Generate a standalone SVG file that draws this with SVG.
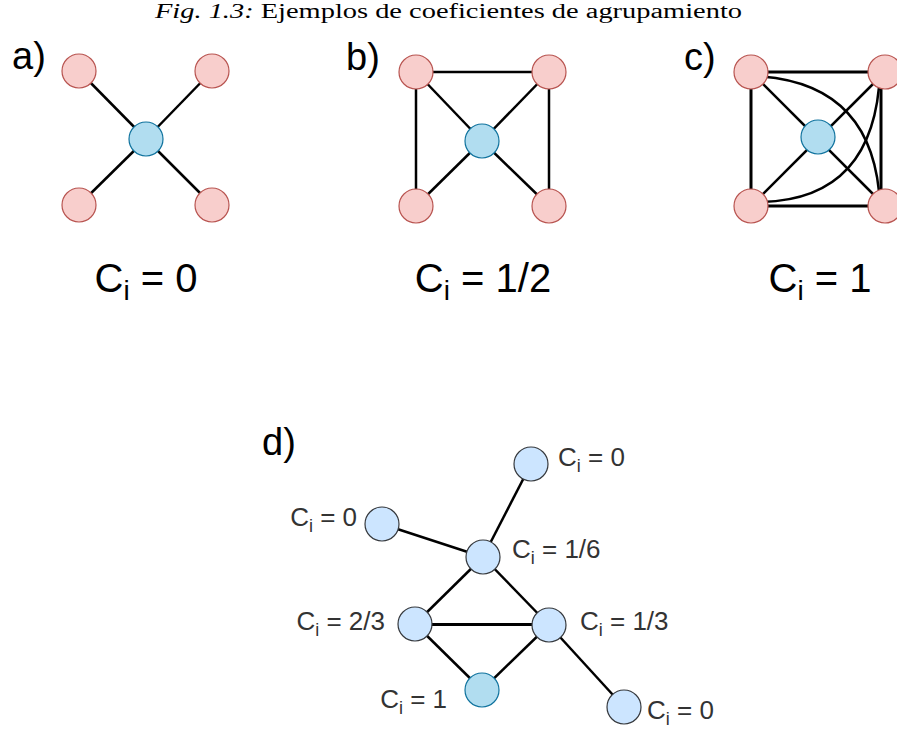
<svg xmlns="http://www.w3.org/2000/svg" width="897" height="729" viewBox="0 0 897 729">
<style>
.e{stroke:#000;stroke-width:2.5;fill:none}
.e3{stroke:#000;stroke-width:3;fill:none}
.red{fill:#f8cecc;stroke:#b85450;stroke-width:1.2}
.cen{fill:#b1ddf0;stroke:#10739e;stroke-width:1.2}
.dn{fill:#cce5ff;stroke:#36393d;stroke-width:1.2}
.big{font-family:"Liberation Sans",Arial,sans-serif;font-size:40px;fill:#000}
.lab{font-family:"Liberation Sans",Arial,sans-serif;font-size:38px;fill:#000}
.sm{font-family:"Liberation Sans",Arial,sans-serif;font-size:26px;fill:#333}
.title{font-family:"Liberation Serif","Times New Roman",serif;font-size:20px;fill:#000}
</style>
<rect width="897" height="729" fill="#fff"/>
<text class="title" x="155" y="18" textLength="587" lengthAdjust="spacingAndGlyphs"><tspan font-style="italic">Fig. 1.3:</tspan> Ejemplos de coeficientes de agrupamiento</text>

<g id="connectors">
  <!-- a -->
  <line class="e" x1="146" y1="139" x2="79" y2="71"/>
  <line class="e" x1="146" y1="139" x2="212" y2="71"/>
  <line class="e" x1="146" y1="139" x2="79" y2="205"/>
  <line class="e" x1="146" y1="139" x2="212" y2="205"/>
  <!-- b -->
  <line class="e" x1="416" y1="72" x2="549" y2="72"/>
  <line class="e" x1="416" y1="72" x2="416" y2="206"/>
  <line class="e" x1="549" y1="72" x2="549" y2="206"/>
  <line class="e" x1="482" y1="141" x2="416" y2="72"/>
  <line class="e" x1="482" y1="141" x2="549" y2="72"/>
  <line class="e" x1="482" y1="141" x2="416" y2="206"/>
  <line class="e" x1="482" y1="141" x2="549" y2="206"/>
  <!-- c -->
  <line class="e3" x1="751" y1="72" x2="885" y2="72"/>
  <line class="e3" x1="751" y1="206" x2="885" y2="206"/>
  <line class="e3" x1="751" y1="72" x2="751" y2="206"/>
  <line class="e3" x1="881" y1="72" x2="881" y2="206"/>
  <line class="e" x1="751" y1="72" x2="885" y2="206"/>
  <line class="e" x1="751" y1="206" x2="885" y2="72"/>
  <path class="e" d="M751,76 Q875,80 880,206"/>
  <path class="e" d="M751,202 Q875,205 880,72"/>
  <!-- d -->
  <line class="e" x1="382" y1="524" x2="483" y2="557"/>
  <line class="e" x1="531" y1="464" x2="483" y2="557"/>
  <line class="e" x1="483" y1="557" x2="415" y2="624"/>
  <line class="e" x1="483" y1="557" x2="549" y2="625"/>
  <line class="e3" x1="415" y1="624.5" x2="549" y2="624.5"/>
  <line class="e" x1="415" y1="624" x2="482" y2="690"/>
  <line class="e" x1="549" y1="625" x2="482" y2="690"/>
  <line class="e" x1="549" y1="625" x2="624" y2="707"/>
</g>

<g id="graph-a">
  <text class="lab" x="12" y="69">a)</text>
  <g id="a-tl"><circle class="red" cx="79" cy="71" r="17"/></g>
  <g id="a-tr"><circle class="red" cx="212" cy="71" r="17"/></g>
  <g id="a-bl"><circle class="red" cx="79" cy="205" r="17"/></g>
  <g id="a-br"><circle class="red" cx="212" cy="205" r="17"/></g>
  <g id="a-c"><circle class="cen" cx="146" cy="139" r="17"/></g>
  <text class="big" x="146" y="292" text-anchor="middle">C<tspan font-size="28" dy="8">i</tspan><tspan dy="-8"> = 0</tspan></text>
</g>

<g id="graph-b">
  <text class="lab" x="346" y="70">b)</text>
  <g id="b-tl"><circle class="red" cx="416" cy="72" r="17"/></g>
  <g id="b-tr"><circle class="red" cx="549" cy="72" r="17"/></g>
  <g id="b-bl"><circle class="red" cx="416" cy="206" r="17"/></g>
  <g id="b-br"><circle class="red" cx="549" cy="206" r="17"/></g>
  <g id="b-c"><circle class="cen" cx="482" cy="141" r="17"/></g>
  <text class="big" x="483" y="292" text-anchor="middle">C<tspan font-size="28" dy="8">i</tspan><tspan dy="-8"> = 1/2</tspan></text>
</g>

<g id="graph-c">
  <text class="lab" x="684" y="70">c)</text>
  <g id="c-tl"><circle class="red" cx="751" cy="72" r="17"/></g>
  <g id="c-tr"><circle class="red" cx="885" cy="72" r="17"/></g>
  <g id="c-bl"><circle class="red" cx="751" cy="206" r="17"/></g>
  <g id="c-br"><circle class="red" cx="885" cy="206" r="17"/></g>
  <g id="c-c"><circle class="cen" cx="818" cy="137" r="17"/></g>
  <text class="big" x="820" y="292" text-anchor="middle">C<tspan font-size="28" dy="8">i</tspan><tspan dy="-8"> = 1</tspan></text>
</g>

<g id="graph-d">
  <text class="lab" x="262" y="455">d)</text>
  <g id="d-left"><circle class="dn" cx="382" cy="524" r="17"/>
    <text class="sm" x="357" y="526" text-anchor="end">C<tspan font-size="18" dy="6">i</tspan><tspan dy="-6"> = 0</tspan></text></g>
  <g id="d-top"><circle class="dn" cx="531" cy="464" r="17"/>
    <text class="sm" x="558" y="466">C<tspan font-size="18" dy="6">i</tspan><tspan dy="-6"> = 0</tspan></text></g>
  <g id="d-mid"><circle class="dn" cx="483" cy="557" r="17"/>
    <text class="sm" x="512" y="558">C<tspan font-size="18" dy="6">i</tspan><tspan dy="-6"> = 1/6</tspan></text></g>
  <g id="d-23"><circle class="dn" cx="415" cy="624" r="17"/>
    <text class="sm" x="385" y="630" text-anchor="end">C<tspan font-size="18" dy="6">i</tspan><tspan dy="-6"> = 2/3</tspan></text></g>
  <g id="d-13"><circle class="dn" cx="549" cy="625" r="17"/>
    <text class="sm" x="580" y="630">C<tspan font-size="18" dy="6">i</tspan><tspan dy="-6"> = 1/3</tspan></text></g>
  <g id="d-1"><circle class="cen" cx="482" cy="690" r="17"/>
    <text class="sm" x="447" y="708" text-anchor="end">C<tspan font-size="18" dy="6">i</tspan><tspan dy="-6"> = 1</tspan></text></g>
  <g id="d-br"><circle class="dn" cx="624" cy="707" r="17"/>
    <text class="sm" x="647" y="719">C<tspan font-size="18" dy="6">i</tspan><tspan dy="-6"> = 0</tspan></text></g>
</g>
</svg>
